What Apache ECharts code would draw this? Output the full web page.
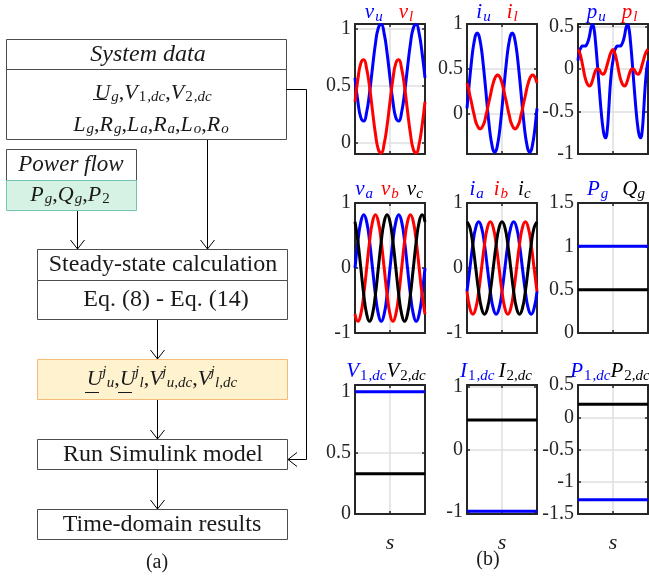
<!DOCTYPE html>
<html>
<head>
<meta charset="UTF-8">
<title>steady-state workflow</title>
<style>
  html, body { margin: 0; padding: 0; background: #fff; }
  #main { width: 649px; height: 578px; }
</style>
<script src="https://cdn.jsdelivr.net/npm/echarts@6.0.0/dist/echarts.min.js"></script>
</head>
<body>
<div id="main"></div>
<script>
// sample index along the time axis, two fundamental periods (12 samples each)
var t = [0,1,2,3,4,5,6,7,8,9,10,11,12,13,14,15,16,17,18,19,20,21,22,23,24];
// finer sampling (24 per period) for the arm currents and powers
var t2 = [0,0.5,1,1.5,2,2.5,3,3.5,4,4.5,5,5.5,6,6.5,7,7.5,8,8.5,9,9.5,10,10.5,11,11.5,
          12,12.5,13,13.5,14,14.5,15,15.5,16,16.5,17,17.5,18,18.5,19,19.5,20,20.5,21,21.5,22,22.5,23,23.5,24];

// arm voltages (pu), on t
var vu = [0.57,0.36,0.22,0.19,0.27,0.44,0.66,0.87,1.01,1.04,0.96,0.79,0.57,0.36,0.22,0.19,0.27,0.44,0.66,0.87,1.01,1.04,0.96,0.79,0.57];
var vl = [0.36,0.56,0.70,0.73,0.65,0.49,0.28,0.08,-0.06,-0.09,-0.01,0.15,0.36,0.56,0.70,0.73,0.65,0.49,0.28,0.08,-0.06,-0.09,-0.01,0.15,0.36];
// arm currents and powers (pu), on t2
var iu = [0.06,0.24,0.41,0.57,0.71,0.81,0.88,0.90,0.88,0.81,0.71,0.57,0.41,0.24,0.06,-0.10,-0.24,-0.34,-0.41,-0.43,-0.41,-0.34,-0.24,-0.10,
          0.06,0.24,0.41,0.57,0.71,0.81,0.88,0.90,0.88,0.81,0.71,0.57,0.41,0.24,0.06,-0.10,-0.24,-0.34,-0.41,-0.43,-0.41,-0.34,-0.24,-0.10,0.06];
var il = [0.34,0.28,0.20,0.13,0.05,-0.02,-0.09,-0.13,-0.16,-0.17,-0.16,-0.13,-0.09,-0.02,0.05,0.13,0.20,0.28,0.34,0.39,0.42,0.43,0.42,0.39,
          0.34,0.28,0.20,0.13,0.05,-0.02,-0.09,-0.13,-0.16,-0.17,-0.16,-0.13,-0.09,-0.02,0.05,0.13,0.20,0.28,0.34,0.39,0.42,0.43,0.42,0.39,0.34];
var pu = [0.10,0.21,0.25,0.27,0.27,0.27,0.29,0.33,0.40,0.49,0.52,0.47,0.32,0.12,-0.10,-0.32,-0.52,-0.68,-0.78,-0.81,-0.73,-0.50,-0.22,-0.02,
          0.10,0.21,0.25,0.27,0.27,0.27,0.29,0.33,0.40,0.49,0.52,0.47,0.32,0.12,-0.10,-0.32,-0.52,-0.68,-0.78,-0.81,-0.73,-0.50,-0.22,-0.02,0.10];
var pl = [0.23,0.20,0.14,0.06,-0.03,-0.11,-0.16,-0.19,-0.20,-0.18,-0.13,-0.07,-0.02,0.00,0.00,-0.02,-0.05,-0.06,-0.05,-0.01,0.05,0.11,0.17,0.21,
          0.23,0.20,0.14,0.06,-0.03,-0.11,-0.16,-0.19,-0.20,-0.18,-0.13,-0.07,-0.02,0.00,0.00,-0.02,-0.05,-0.06,-0.05,-0.01,0.05,0.11,0.17,0.21,0.23];

// ac side, three phases, on t
var va = [0,0.41,0.71,0.82,0.71,0.41,0,-0.41,-0.71,-0.82,-0.71,-0.41,0,0.41,0.71,0.82,0.71,0.41,0,-0.41,-0.71,-0.82,-0.71,-0.41,0];
var vb = [-0.71,-0.82,-0.71,-0.41,0,0.41,0.71,0.82,0.71,0.41,0,-0.41,-0.71,-0.82,-0.71,-0.41,0,0.41,0.71,0.82,0.71,0.41,0,-0.41,-0.71];
var vc = [0.71,0.41,0,-0.41,-0.71,-0.82,-0.71,-0.41,0,0.41,0.71,0.82,0.71,0.41,0,-0.41,-0.71,-0.82,-0.71,-0.41,0,0.41,0.71,0.82,0.71];
var ia = [-0.36,0,0.36,0.62,0.71,0.62,0.36,0,-0.36,-0.62,-0.71,-0.62,-0.36,0,0.36,0.62,0.71,0.62,0.36,0,-0.36,-0.62,-0.71,-0.62,-0.36];
var ib = [-0.36,-0.62,-0.71,-0.62,-0.36,0,0.36,0.62,0.71,0.62,0.36,0,-0.36,-0.62,-0.71,-0.62,-0.36,0,0.36,0.62,0.71,0.62,0.36,0,-0.36];
var ic = [0.71,0.62,0.36,0,-0.36,-0.62,-0.71,-0.62,-0.36,0,0.36,0.62,0.71,0.62,0.36,0,-0.36,-0.62,-0.71,-0.62,-0.36,0,0.36,0.62,0.71];

// steady values: [blue, black]
var pq = [1.0, 0.5];        // Pg, Qg
var vdc = [1.0, 0.33];      // V1dc, V2dc
var idc = [-0.99, 0.47];    // I1dc, I2dc
var pdc = [-1.28, 0.2];     // P1dc, P2dc

var SERIF = '"Liberation Serif", "DejaVu Serif", serif';
var BLUE = '#0000ff', RED = '#ff0000', BLACK = '#000000', INK = '#262626';

function curve(arr, xs) { xs = xs || t; return xs.map(function (x, i) { return [x, arr[i]]; }); }
function flat(v) { return [[t[0], v], [t[t.length - 1], v]]; }

var cols = [355, 467, 578];
var rows = [24, 203, 385];

var panels = [
  {r: 0, c: 0, y: [-0.1, 1.045], ticks: [0, 0.5, 1], lines: [[curve(vu), BLUE], [curve(vl), RED]],
   title: '{b|v}{bs|u}{g16| }{r|v}{rs|l}', tx: 389},
  {r: 0, c: 1, y: [-0.45, 1.0], ticks: [0, 0.5, 1], lines: [[curve(iu, t2), BLUE], [curve(il, t2), RED]],
   title: '{b|i}{bs|u}{g16| }{r|i}{rs|l}', tx: 497},
  {r: 0, c: 2, y: [-1, 0.53], ticks: [-1, -0.5, 0, 0.5], lines: [[curve(pu, t2), BLUE], [curve(pl, t2), RED]],
   title: '{b|p}{bs|u}{g16| }{r|p}{rs|l}', tx: 612},
  {r: 1, c: 0, y: [-1, 1], ticks: [-1, 0, 1], lines: [[curve(va), BLUE], [curve(vb), RED], [curve(vc), BLACK]],
   title: '{b|v}{bs|a}{g8| }{r|v}{rs|b}{g8| }{k|v}{ks|c}', tx: 389},
  {r: 1, c: 1, y: [-1, 1], ticks: [-1, 0, 1], lines: [[curve(ia), BLUE], [curve(ib), RED], [curve(ic), BLACK]],
   title: '{b|i}{bs|a}{g10| }{r|i}{rs|b}{g10| }{k|i}{ks|c}', tx: 500},
  {r: 1, c: 2, y: [0, 1.5], ticks: [0, 0.5, 1, 1.5], lines: [[flat(pq[0]), BLUE], [flat(pq[1]), BLACK]],
   title: '{b|P}{bs|g}{g14| }{k|Q}{ks|g}', tx: 616},
  {r: 2, c: 0, y: [0, 1.055], ticks: [0, 0.5, 1], lines: [[flat(vdc[0]), BLUE], [flat(vdc[1]), BLACK]],
   title: '{b|V}{bn|1}{bs|,dc}{k|V}{kn|2}{ks|,dc}', tx: 386},
  {r: 2, c: 1, y: [-1.035, 1.03], ticks: [-1, 0, 1], lines: [[flat(idc[0]), BLUE], [flat(idc[1]), BLACK]],
   title: '{b|I}{bn|1}{bs|,dc}{g4| }{k|I}{kn|2}{ks|,dc}', tx: 496},
  {r: 2, c: 2, y: [-1.5, 0.5], ticks: [-1.5, -1, -0.5, 0, 0.5], lines: [[flat(pdc[0]), BLUE], [flat(pdc[1]), BLACK]],
   title: '{b|P}{bn|1}{bs|,dc}{k|P}{kn|2}{ks|,dc}', tx: 610}
];

function tstyle(color, size, italic, pad) {
  var s = {fill: color, fontSize: size, fontFamily: SERIF, fontStyle: italic ? 'italic' : 'normal'};
  if (pad) s.padding = pad;
  return s;
}
var titleRich = {
  b: tstyle(BLUE, 21, true), bs: tstyle(BLUE, 15, true, [10, 0, 0, 1]), bn: tstyle(BLUE, 15, false, [10, 0, 0, 1]),
  r: tstyle(RED, 21, true), rs: tstyle(RED, 15, true, [10, 0, 0, 1]),
  k: tstyle(BLACK, 21, true), ks: tstyle(BLACK, 15, true, [10, 0, 0, 0]), kn: tstyle(BLACK, 15, false, [10, 0, 0, 1]),
  g4: {width: 4}, g8: {width: 8}, g10: {width: 10}, g14: {width: 14}, g16: {width: 16}
};
var titleY = [12, 189, 371];

var grids = [], xAxes = [], yAxes = [], series = [], graphics = [];
panels.forEach(function (p, i) {
  var left = cols[p.c], top = rows[p.r], h = p.r === 2 ? 129 : 130;
  grids.push({left: left, top: top, width: 70, height: h, outerBoundsMode: 'none'});
  var inner = p.ticks.filter(function (v) { return v > p.y[0] && v < p.y[1]; });
  var edge = {show: true, onZero: false, lineStyle: {color: INK, width: 2}};
  var tick = {show: true, inside: true, length: 3, lineStyle: {color: INK, width: 1.5}};
  var grid = {show: true, lineStyle: {color: '#dfdfdf', width: 1.5}};
  xAxes.push({
    gridIndex: i, type: 'value', min: 0, max: 24, position: 'bottom',
    axisLine: edge, axisTick: Object.assign({customValues: [12]}, tick),
    axisLabel: {show: false}, splitLine: grid,
    name: p.r === 2 ? 's' : '', nameLocation: 'middle', nameGap: 18,
    nameTextStyle: {fontFamily: SERIF, fontStyle: 'italic', fontSize: 22, color: '#1a1a1a'}
  });
  xAxes.push({
    gridIndex: i, type: 'value', min: 0, max: 24, position: 'top',
    axisLine: edge, axisTick: Object.assign({customValues: [12]}, tick),
    axisLabel: {show: false}, splitLine: {show: false}
  });
  yAxes.push({
    gridIndex: i, type: 'value', min: p.y[0], max: p.y[1], position: 'left',
    axisLine: edge, axisTick: Object.assign({customValues: inner}, tick),
    axisLabel: {customValues: p.ticks, fontFamily: SERIF, fontSize: 20, color: INK, margin: 4},
    splitLine: {show: false}
  });
  yAxes.push({
    gridIndex: i, type: 'value', min: p.y[0], max: p.y[1], position: 'right',
    axisLine: edge, axisTick: Object.assign({customValues: inner}, tick),
    axisLabel: {show: false}, splitLine: grid
  });
  p.lines.forEach(function (ln) {
    series.push({
      type: 'line', xAxisIndex: 2 * i, yAxisIndex: 2 * i, data: ln[0],
      smooth: true, symbol: 'none', silent: true,
      lineStyle: {color: ln[1], width: 3}
    });
  });
  graphics.push({
    type: 'text', x: p.tx, y: titleY[p.r],
    style: {text: p.title, rich: titleRich, align: 'center', verticalAlign: 'middle'}
  });
});

// ---- flowchart (a) ----
var LINE = '#4d4d4d', TXT = '#1a1a1a';
function box(x, y, w, h, fill, stroke) {
  return {type: 'rect', shape: {x: x + 0.5, y: y + 0.5, width: w, height: h},
          style: {fill: fill || '#fff', stroke: stroke || LINE, lineWidth: 1}};
}
function seg(pts, color) {
  return {type: 'polyline', shape: {points: pts}, style: {stroke: color || '#000', lineWidth: 1, fill: 'none'}};
}
function label(x, y, text, size, italic) {
  return {type: 'text', x: x, y: y, style: {text: text, fill: TXT, fontSize: size, fontFamily: SERIF,
          fontStyle: italic ? 'italic' : 'normal', align: 'center', verticalAlign: 'middle'}};
}
function downArrow(x, y0, y1) {
  return [seg([[x, y0], [x, y1]]), seg([[x - 7, y1 - 9], [x, y1], [x + 7, y1 - 9]])];
}
var mathRich = {
  m: tstyle(TXT, 22, true), n: tstyle(TXT, 22, false),
  s: tstyle(TXT, 15, true, [9, 0, 0, 1]), sn: tstyle(TXT, 15, false, [9, 0, 0, 1]),
  p: {fill: TXT, fontSize: 15, fontFamily: SERIF, fontStyle: 'italic', padding: [0, 0, 14, 0], width: 3}
};
function math(x, y, text) {
  return {type: 'text', x: x, y: y, style: {text: text, rich: mathRich, align: 'center', verticalAlign: 'middle'}};
}

graphics = graphics.concat([
  box(6, 39, 280, 30), box(6, 69, 280, 70),
  label(148, 55, 'System data', 24, true),
  math(153, 93, '{m|U}{s|g}{n|,}{m|V}{sn|1}{s|,dc}{n|,}{m|V}{sn|2}{s|,dc}'),
  seg([[93, 99.5], [107, 99.5]], TXT),
  math(151, 125, '{m|L}{s|g}{n|,}{m|R}{s|g}{n|,}{m|L}{s|a}{n|,}{m|R}{s|a}{n|,}{m|L}{s|o}{n|,}{m|R}{s|o}'),

  box(6, 149, 130, 31), box(6, 180, 130, 30, '#d6f2e4', '#74c4b0'),
  label(71, 165, 'Power flow', 23, true),
  math(70, 195, '{m|P}{s|g}{n|,}{m|Q}{s|g}{n|,}{m|P}{sn|2}'),

  box(37, 249, 250, 31), box(37, 280, 250, 39),
  label(163, 265, 'Steady-state calculation', 24),
  label(166, 300, 'Eq. (8) - Eq. (14)', 24),

  box(37, 359, 250, 40, '#fff2cf', '#f7bb78'),
  math(162, 379, '{m|U}{p|j}{s|u}{n|,}{m|U}{p|j}{s|l}{n|,}{m|V}{p|j}{s|u,dc}{n|,}{m|V}{p|j}{s|l,dc}'),
  seg([[85, 392.5], [99, 392.5]], TXT),
  seg([[118, 392.5], [132, 392.5]], TXT),

  box(37, 439, 250, 30),
  label(163, 455, 'Run Simulink model', 24),
  box(37, 509, 250, 30),
  label(162, 525, 'Time-domain results', 24),

  seg([[286.5, 89.5], [306.5, 89.5], [306.5, 459.5], [288, 459.5]]),
  seg([[297, 452.5], [288, 459.5], [297, 466.5]]),

  label(157, 563, '(a)', 20),
  label(488, 560, '(b)', 20)
]);
graphics = graphics
  .concat(downArrow(77.5, 211, 249))
  .concat(downArrow(207.5, 140, 249))
  .concat(downArrow(157.5, 320, 359))
  .concat(downArrow(157.5, 400, 439))
  .concat(downArrow(157.5, 470, 509));

var chart = echarts.init(document.getElementById('main'), null, {renderer: 'canvas'});
chart.setOption({
  animation: false,
  backgroundColor: '#fff',
  grid: grids,
  xAxis: xAxes,
  yAxis: yAxes,
  series: series,
  graphic: graphics
});
</script>
</body>
</html>
